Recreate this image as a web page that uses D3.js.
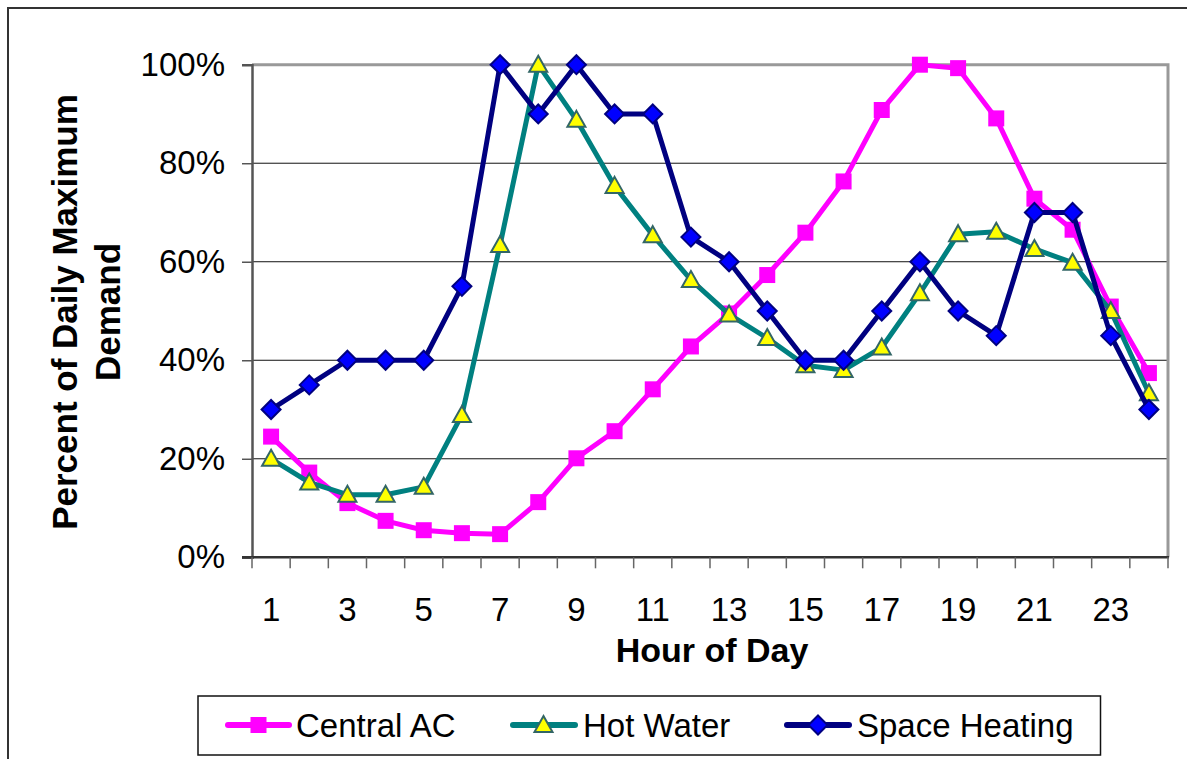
<!DOCTYPE html>
<html>
<head>
<meta charset="utf-8">
<script src="https://cdn.jsdelivr.net/npm/d3@7"></script>
<style>
  html, body { margin: 0; padding: 0; background: #fff; }
  svg { display: block; font-family: "Liberation Sans", Arial, sans-serif; }
</style>
</head>
<body>
<svg id="chart" width="1187" height="759"></svg>
<script>
const hours = [1,2,3,4,5,6,7,8,9,10,11,12,13,14,15,16,17,18,19,20,21,22,23,24];
const centralAC = [24.5,17.2,11,7.4,5.5,4.9,4.7,11.2,20.1,25.6,34.1,42.8,49.5,57.3,65.9,76.3,90.8,100,99.3,89.1,72.8,66.5,50.9,37.4];
const hotWater = [20,15.2,12.7,12.7,14.3,28.9,63.4,100,88.8,75.4,65.4,56.3,49.3,44.5,39,38,42.6,53.6,65.6,66.1,62.6,59.8,50,33.3];
const spaceHeating = [30,35,40,40,40,55,100,90,100,90,90,65,60,50,40,40,50,60,50,45,70,70,45,30];
const yTicks = [0,20,40,60,80,100];
const xTickLabels = [1,3,5,7,9,11,13,15,17,19,21,23];
const seriesNames = ["Central AC","Hot Water","Space Heating"];

const svg = d3.select("#chart");
const L = 252, R = 1168, T = 64.7, B = 557.3;

const x = d3.scaleBand().domain(hours).range([L, R]).paddingInner(0).paddingOuter(0);
const y = d3.scaleLinear().domain([0, 100]).range([B, T]);
const cx = d => x(d) + x.bandwidth() / 2;

// outer border
svg.append("rect").attr("x", 8).attr("y", 8).attr("width", 1200).attr("height", 800)
  .attr("fill", "none").attr("stroke", "#333").attr("stroke-width", 2);

// gridlines
svg.append("g").selectAll("line").data(yTicks.filter(v => v > 0 && v < 100)).join("line")
  .attr("x1", L).attr("x2", R).attr("y1", d => y(d)).attr("y2", d => y(d))
  .attr("stroke", "#111").attr("stroke-width", 1);

// plot border top/right (gray)
svg.append("path")
  .attr("d", `M${L},${y(100)}H${R}V${B}`)
  .attr("fill", "none").attr("stroke", "#999").attr("stroke-width", 3);

// y axis
const yAxis = d3.axisLeft(y).tickValues(yTicks).tickFormat(d => d + "%").tickSize(10).tickPadding(17);
const gy = svg.append("g").attr("transform", `translate(${L},0)`).call(yAxis);
gy.select(".domain").attr("stroke", "#555").attr("stroke-width", 2.5);
gy.selectAll(".tick line").attr("stroke", "#555").attr("stroke-width", 1.5);
gy.selectAll(".tick text").attr("font-size", 33).attr("fill", "#000")
  .attr("font-family", "'Liberation Sans', Arial, sans-serif");

// x axis: labels
const xAxis = d3.axisBottom(x).tickValues(xTickLabels).tickSize(0).tickPadding(40);
const gx = svg.append("g").attr("transform", `translate(0,${B})`).call(xAxis);
gx.select(".domain").remove();
gx.selectAll(".tick text").attr("font-size", 33).attr("fill", "#000")
  .attr("font-family", "'Liberation Sans', Arial, sans-serif");

// x axis line and boundary ticks
svg.append("line").attr("x1", L - 10).attr("x2", R + 1).attr("y1", B).attr("y2", B)
  .attr("stroke", "#333").attr("stroke-width", 2.5);
const bounds = hours.map(h => x(h)).concat([R]);
svg.append("g").selectAll("line").data(bounds).join("line")
  .attr("x1", d => d).attr("x2", d => d).attr("y1", B).attr("y2", B + 11)
  .attr("stroke", "#666").attr("stroke-width", 1.5);

// axis titles
svg.append("text").attr("x", 712).attr("y", 662).attr("text-anchor", "middle")
  .attr("font-size", 34).attr("font-weight", "bold").text("Hour of Day");
const yt = svg.append("text").attr("transform", "translate(0,312) rotate(-90)")
  .attr("text-anchor", "middle").attr("font-size", 35).attr("font-weight", "bold");
yt.append("tspan").attr("x", 0).attr("y", 77).text("Percent of Daily Maximum");
yt.append("tspan").attr("x", 0).attr("y", 120).text("Demand");

// series
const styles = [
  { data: centralAC, line: "#FF00FF", marker: "square", fill: "#FF00FF", stroke: "#FF00FF" },
  { data: hotWater, line: "#008080", marker: "triangle", fill: "#FFFF00", stroke: "#336666" },
  { data: spaceHeating, line: "#000080", marker: "diamond", fill: "#0000FF", stroke: "#000080" }
];

function markerPath(type) {
  if (type === "square") return "M-8,-8H8V8H-8Z";
  if (type === "triangle") return "M0,-9L9,7H-9Z";
  return "M0,-9.5L9.5,0L0,9.5L-9.5,0Z";
}

const line = d3.line().x((d, i) => cx(hours[i])).y(d => y(d));
styles.forEach(s => {
  const g = svg.append("g");
  g.append("path").attr("d", line(s.data)).attr("fill", "none")
    .attr("stroke", s.line).attr("stroke-width", 5).attr("stroke-linejoin", "round");
  g.selectAll("path.m").data(s.data).join("path").attr("class", "m")
    .attr("transform", (d, i) => `translate(${cx(hours[i])},${y(d)})`)
    .attr("d", markerPath(s.marker))
    .attr("fill", s.fill).attr("stroke", s.stroke).attr("stroke-width", s.marker === "square" ? 0 : 2);
});

// legend
const lg = svg.append("g");
lg.append("rect").attr("x", 198).attr("y", 696).attr("width", 902.5).attr("height", 59)
  .attr("fill", "#fff").attr("stroke", "#111").attr("stroke-width", 1.5);
const legendItems = [
  { x1: 228, x2: 289, mx: 258.5, tx: 296 },
  { x1: 513, x2: 575, mx: 543.5, tx: 583 },
  { x1: 787, x2: 849, mx: 818, tx: 857 }
];
legendItems.forEach((it, i) => {
  const s = styles[i];
  lg.append("line").attr("x1", it.x1).attr("x2", it.x2).attr("y1", 725).attr("y2", 725)
    .attr("stroke", s.line).attr("stroke-width", 6).attr("stroke-linecap", "round");
  lg.append("path").attr("transform", `translate(${it.mx},725)`).attr("d", markerPath(s.marker))
    .attr("fill", s.fill).attr("stroke", s.stroke).attr("stroke-width", s.marker === "square" ? 0 : 2);
  lg.append("text").attr("x", it.tx).attr("y", 737).attr("font-size", 33).attr("fill", "#000")
    .text(seriesNames[i]);
});
</script>
</body>
</html>
